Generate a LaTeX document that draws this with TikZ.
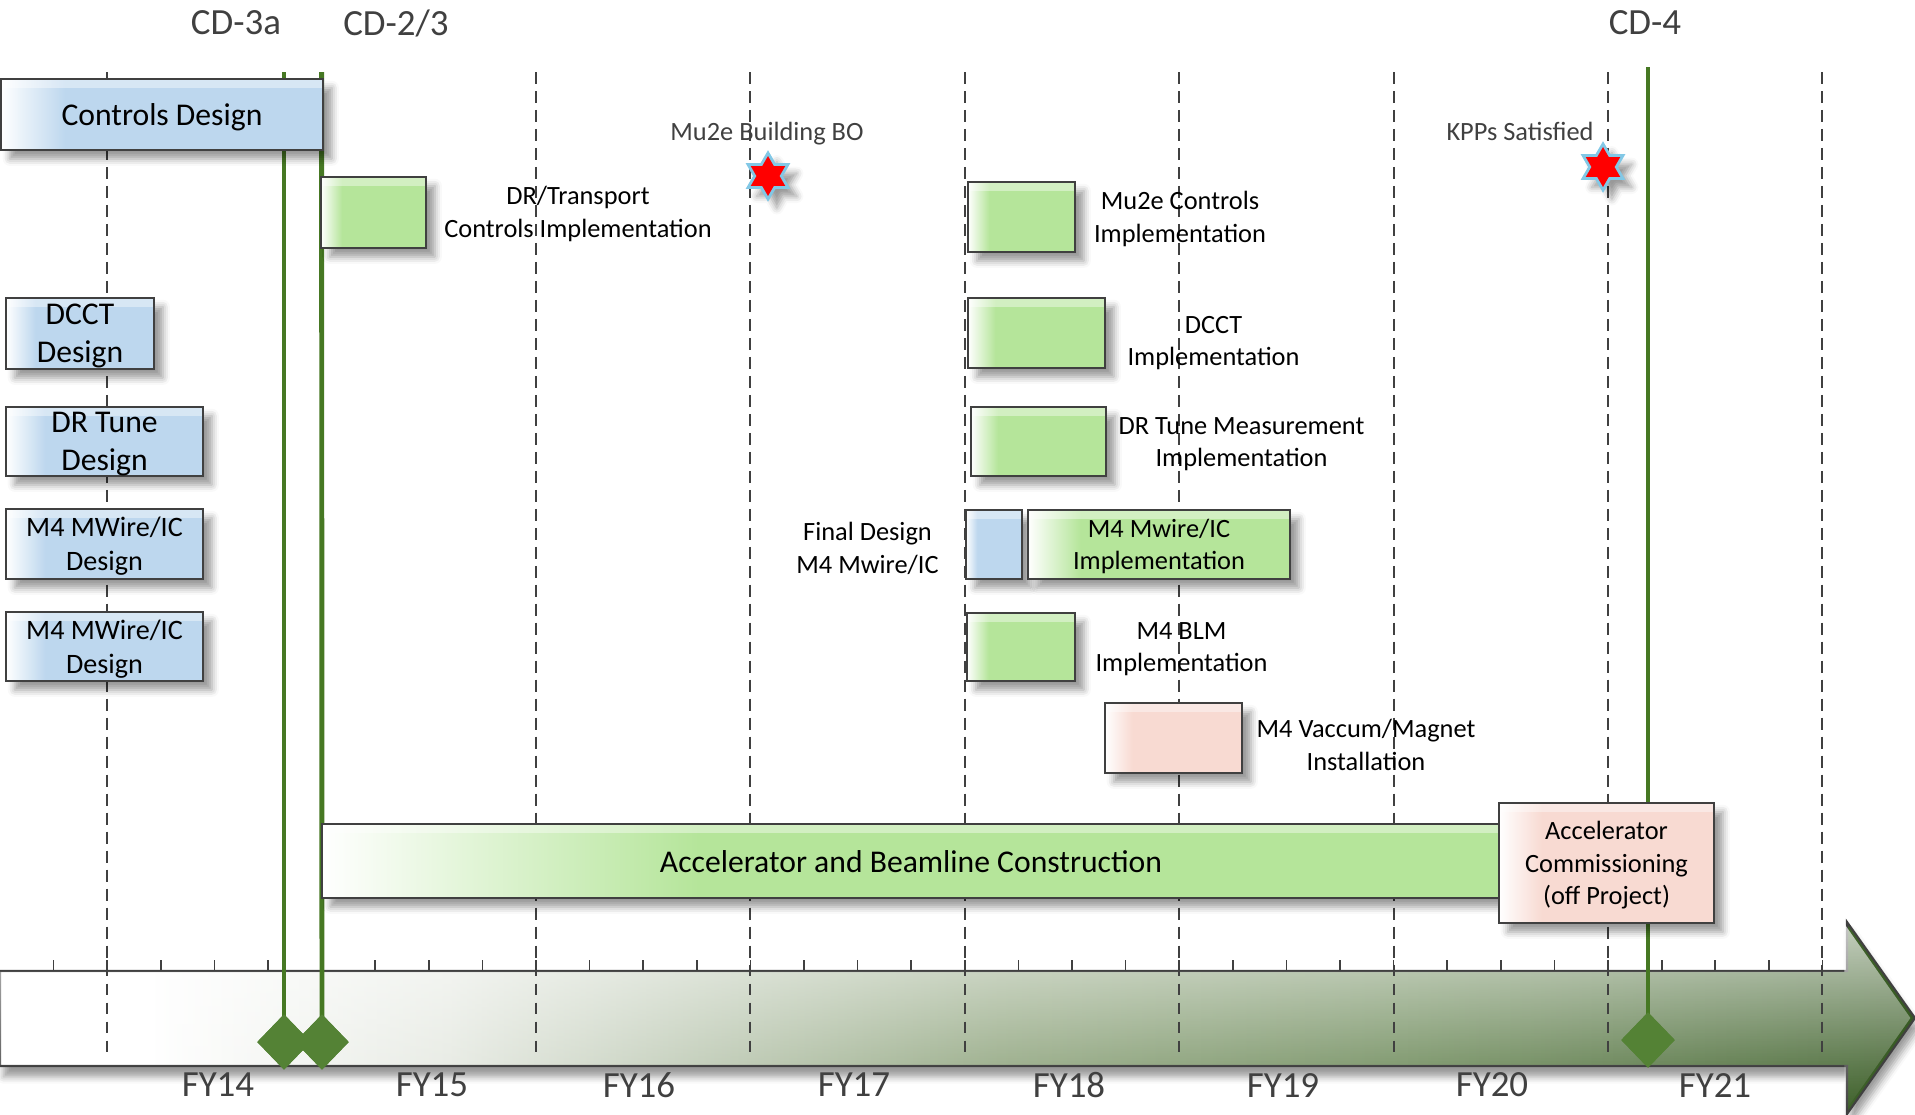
\documentclass[tikz,border=0pt]{standalone}
\usepackage{fontspec}
\setmainfont{Carlito}
\usetikzlibrary{shapes.geometric,shadows.blur,fadings}

\definecolor{boxblue}{RGB}{189,215,238}
\definecolor{boxgreen}{RGB}{181,229,154}
\definecolor{boxpink}{RGB}{248,218,210}
\definecolor{msgreen}{RGB}{84,130,53}
\definecolor{linegreen}{RGB}{70,120,35}
\definecolor{txtgray}{RGB}{64,64,64}
\definecolor{starblue}{RGB}{130,200,230}
\definecolor{tlone}{RGB}{228,232,224}
\definecolor{tltwo}{RGB}{185,198,175}
\definecolor{tlthree}{RGB}{140,162,122}
\definecolor{tlfour}{RGB}{105,135,85}
\definecolor{tlfive}{RGB}{55,90,35}

\pgfdeclarehorizontalshading{bluefade}{100bp}{color(0bp)=(white); color(25bp)=(white); color(35bp)=(boxblue); color(100bp)=(boxblue)}
\pgfdeclarehorizontalshading{greenfade}{100bp}{color(0bp)=(white); color(25bp)=(white); color(35bp)=(boxgreen); color(100bp)=(boxgreen)}
\pgfdeclarehorizontalshading{pinkfade}{100bp}{color(0bp)=(white); color(25bp)=(white); color(35bp)=(boxpink); color(100bp)=(boxpink)}
\pgfdeclarehorizontalshading{longfade}{100bp}{color(0bp)=(white); color(25bp)=(white); color(41bp)=(boxgreen); color(100bp)=(boxgreen)}
\pgfdeclarehorizontalshading{timefade}{100bp}{color(0bp)=(white); color(28.9bp)=(white); color(36.7bp)=(tlone); color(43.3bp)=(tltwo); color(51.1bp)=(tlthree); color(61.6bp)=(tlfour); color(75bp)=(tlfive); color(100bp)=(tlfive)}
\tikzfading[name=topglow, top color=transparent!0, bottom color=transparent!100]

\tikzset{
	task/.style={draw=txtgray, line width=0.6pt, inner sep=0pt, align=center, shade, text depth=0pt,
		font=\fontsize{9}{10.8}\selectfont,
		blur shadow={shadow xshift=2.5pt, shadow yshift=-2.5pt, shadow blur radius=2pt},
		path picture={\fill[white, opacity=.4] (path picture bounding box.north west) rectangle ([yshift=-2.5pt]path picture bounding box.north east);}},
	design/.style={task, shading=bluefade},
	impl/.style={task, shading=greenfade},
	install/.style={task, shading=pinkfade},
	lbl/.style={align=center, text depth=0pt, font=\fontsize{7.5}{9.2}\selectfont},
	cdlabel/.style={text=txtgray, font=\fontsize{10.5}{12}\selectfont},
	yearline/.style={txtgray, line width=0.6pt, dash pattern=on 3.4pt off 2pt},
	msline/.style={linegreen, line width=1.4pt},
	msdiamond/.style={diamond, fill=msgreen, minimum width=0.54cm, minimum height=0.56cm, inner sep=0pt},
	msstar/.style={star, star points=6, star point ratio=1.73, fill=red, draw=starblue, line width=0.8pt,
		minimum size=0.46cm, inner sep=0pt, blur shadow={shadow xshift=2.5pt, shadow yshift=-2.5pt}}
}

\begin{document}
\begin{tikzpicture}[x=0.01cm, y=-0.01cm]
	\useasboundingbox (0,0) rectangle (1915,1114);

	% time axis
	\path[draw=txtgray, line width=0.6pt, shade, shading=timefade,
		blur shadow={shadow xshift=1pt, shadow yshift=-3pt, shadow blur radius=2pt}]
		(0,971) -- (1847,971) -- (1847,922) -- (1915,1018) -- (1847,1114) -- (1847,1066) -- (0,1066) -- cycle;
	\fill[white, path fading=topglow, fill opacity=.7]
		(0,972) -- (1847,972) -- (1847,924) -- (1913,1018) -- (1847,1112) -- (1847,1065) -- (0,1065) -- cycle;
	\foreach \k in {1,...,34}
		\draw[txtgray, line width=0.5pt] ({53.6*\k},960) -- ({53.6*\k},971);
	\foreach \yr/\x in {14/218,15/432,16/639,17/854,18/1069,19/1283,20/1492,21/1715}
		\node[cdlabel] (fy\yr) at (\x,1085) {FY\yr};

	\foreach \j in {0,2,3,...,8}
		\draw[yearline] ({107.2+214.4*\j},72) -- ({107.2+214.4*\j},1053);

	% milestones
	\coordinate (cdthreeatop) at (284,72);
	\coordinate (cdtwothreetop) at (321.6,72);
	\coordinate (cdfourtop) at (1648,67);
	\node[msdiamond] (cdthreea) at (284,1042) {};
	\node[msdiamond] (cdtwothree) at (322,1042) {};
	\node[msdiamond] (cdfour) at (1648,1040) {};
	\draw[msline] (cdthreeatop) -- (cdthreea.center);
	\draw[msline] (cdtwothreetop) -- (cdtwothree.center);
	\draw[msline] (cdfourtop) -- (cdfour.center);
	\node[msdiamond] at (cdthreea) {};
	\node[msdiamond] at (cdtwothree) {};
	\node[msdiamond] at (cdfour) {};
	\node[cdlabel] (cdthreeatxt) at (236,23) {CD-3a};
	\node[cdlabel] (cdtwothreetxt) at (396,23) {CD-2/3};
	\node[cdlabel] (cdfourtxt) at (1645,23) {CD-4};

	% design boxes
	\node[design, minimum width=3.22cm, minimum height=0.71cm] (ctrldes) at (162,114.5) {Controls Design};
	\node[design, minimum width=1.48cm, minimum height=0.71cm] (dcctdes) at (80,333.5) {DCCT\\Design};
	\node[design, minimum width=1.97cm, minimum height=0.69cm] (drtunedes) at (104.5,441.5) {DR Tune\\Design};
	\node[design, font=\fontsize{8}{9.7}\selectfont, minimum width=1.97cm, minimum height=0.70cm] (mwiredesa) at (104.5,544) {M4 MWire/IC\\Design};
	\node[design, font=\fontsize{8}{9.7}\selectfont, minimum width=1.97cm, minimum height=0.69cm] (mwiredesb) at (104.5,646.5) {M4 MWire/IC\\Design};
	\node[design, minimum width=0.56cm, minimum height=0.69cm] (finaldes) at (994,544.5) {};

	% implementation boxes
	\node[impl, minimum width=1.05cm, minimum height=0.71cm] (drtransbox) at (373.5,212.5) {};
	\node[impl, minimum width=1.07cm, minimum height=0.70cm] (mutwoebox) at (1021.5,217) {};
	\node[impl, minimum width=1.37cm, minimum height=0.70cm] (dcctbox) at (1036.5,333) {};
	\node[impl, minimum width=1.35cm, minimum height=0.69cm] (drtunebox) at (1038.5,441.5) {};
	\node[impl, font=\fontsize{7.5}{9.2}\selectfont, minimum width=2.62cm, minimum height=0.69cm] (mwirebox) at (1159,544.5) {M4 Mwire/IC\\Implementation};
	\node[impl, minimum width=1.08cm, minimum height=0.68cm] (blmbox) at (1021,647) {};
	\node[install, minimum width=1.37cm, minimum height=0.70cm] (vacbox) at (1173.5,738) {};
	\node[task, shading=longfade, minimum width=11.78cm, minimum height=0.74cm] (accbar) at (911,861) {Accelerator and Beamline Construction};
	\node[install, font=\fontsize{7.5}{9.2}\selectfont, minimum width=2.15cm, minimum height=1.20cm] (commbox) at (1606.5,863) {Accelerator\\Commissioning\\(off Project)};

	% labels
	\node[lbl] (drtranstxt) at (578,212) {DR/Transport\\Controls Implementation};
	\node[lbl] (mutwoetxt) at (1180,217) {Mu2e Controls\\Implementation};
	\node[lbl] (dccttxt) at (1213.5,341) {DCCT\\Implementation};
	\node[lbl] (drtunetxt) at (1241.5,442) {DR Tune Measurement\\Implementation};
	\node[lbl] (finaltxt) at (867.5,548) {Final Design\\M4 Mwire/IC};
	\node[lbl] (blmtxt) at (1181.5,647) {M4 BLM\\Implementation};
	\node[lbl] (vactxt) at (1366,745) {M4 Vaccum/Magnet\\Installation};

	% key dates
	\node[lbl, text=txtgray] (botxt) at (767,131) {Mu2e Building BO};
	\node[lbl, text=txtgray] (kpptxt) at (1520,131) {KPPs Satisfied};
	\node[msstar] (bostar) at (768,176) {};
	\node[msstar] (kppstar) at (1603,167) {};
\end{tikzpicture}
\end{document}
